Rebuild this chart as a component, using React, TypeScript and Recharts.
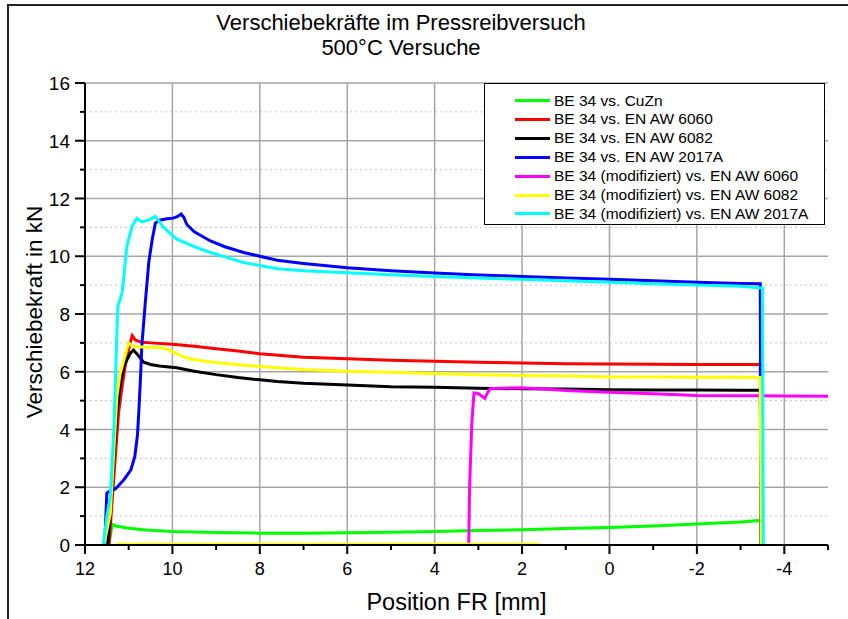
import React from "react";
import {
  LineChart,
  Line,
  XAxis,
  YAxis,
  CartesianGrid,
} from "recharts";

// Position FR [mm] (x) and Verschiebekraft [kN] (y)
const cuznPos = [11.45, 11.38, 11.3, 11.0, 10.6, 10.0, 9.0, 8.0, 7.0, 6.0, 5.0, 4.0, 3.0, 2.0, 1.0, 0.0, -1.0, -2.0, -3.0, -3.45, -3.48];
const cuznForce = [0, 0.72, 0.66, 0.58, 0.52, 0.47, 0.43, 0.41, 0.41, 0.42, 0.44, 0.47, 0.5, 0.53, 0.57, 0.61, 0.66, 0.73, 0.8, 0.85, 0];

const aw6060Pos = [11.45, 11.38, 11.3, 11.23, 11.15, 11.08, 11.0, 10.92, 10.85, 10.7, 10.5, 10.0, 9.5, 9.0, 8.5, 8.0, 7.0, 6.0, 5.0, 4.0, 3.0, 2.0, 1.0, 0, -1, -2, -3, -3.45, -3.47];
const aw6060Force = [0, 1.5, 3.2, 4.6, 5.5, 6.2, 6.8, 7.25, 7.1, 7.02, 7.0, 6.95, 6.88, 6.8, 6.72, 6.62, 6.5, 6.45, 6.4, 6.36, 6.33, 6.3, 6.28, 6.27, 6.26, 6.25, 6.25, 6.25, 0];

const aw6082Pos = [11.48, 11.42, 11.35, 11.27, 11.2, 11.11, 11.03, 10.96, 10.89, 10.8, 10.66, 10.5, 10.3, 9.9, 9.5, 9.0, 8.5, 8.0, 7.6, 7.0, 6.0, 5.0, 4.0, 3.0, 2.0, 1.0, 0, -1, -2, -3, -3.45, -3.47];
const aw6082Force = [0, 1.1, 2.8, 4.58, 5.5, 6.19, 6.45, 6.65, 6.75, 6.6, 6.33, 6.25, 6.2, 6.14, 6.02, 5.9, 5.8, 5.72, 5.66, 5.6, 5.54, 5.48, 5.46, 5.43, 5.41, 5.4, 5.38, 5.37, 5.37, 5.36, 5.36, 0];

const aw2017Pos = [11.55, 11.5, 11.45, 11.3, 11.11, 10.95, 10.86, 10.8, 10.77, 10.73, 10.7, 10.62, 10.54, 10.46, 10.39, 10.3, 10.12, 9.98, 9.88, 9.8, 9.74, 9.67, 9.5, 9.13, 8.8, 8.37, 8.0, 7.6, 7.0, 6.0, 5.0, 4.0, 3.0, 2.0, 1.0, 0, -1, -2, -3, -3.45, -3.47];
const aw2017Force = [0, 1.8, 1.85, 1.95, 2.26, 2.6, 3.07, 3.8, 4.58, 5.8, 6.9, 8.4, 9.8, 10.6, 11.15, 11.25, 11.3, 11.32, 11.38, 11.46, 11.35, 11.1, 10.85, 10.53, 10.33, 10.13, 10.0, 9.86, 9.75, 9.6, 9.5, 9.42, 9.35, 9.3, 9.25, 9.2, 9.15, 9.1, 9.06, 9.05, 0];

const mod6060Pos = [3.22, 3.2, 3.15, 3.1, 3.0, 2.92, 2.85, 2.78, 2.73, 2.5, 2.05, 1.5, 1.0, 0, -1, -2, -3, -4, -5];
const mod6060Force = [0, 2.0, 4.2, 5.27, 5.25, 5.15, 5.08, 5.3, 5.41, 5.43, 5.45, 5.4, 5.35, 5.29, 5.24, 5.18, 5.17, 5.16, 5.15];

const mod6082Pos = [11.57, 11.5, 11.42, 11.35, 11.27, 11.2, 11.11, 11.05, 11.0, 10.9, 10.6, 10.3, 10.15, 10.0, 9.8, 9.6, 9.3, 9.0, 8.5, 8.0, 7.6, 7.0, 6.0, 5.0, 4.0, 3.0, 2.0, 1.0, 0, -1, -2, -3, -3.45, -3.47];
const mod6082Force = [0, 0.5, 1.1, 3.0, 5.15, 5.9, 6.42, 6.75, 7.0, 6.88, 6.85, 6.84, 6.8, 6.7, 6.55, 6.45, 6.37, 6.32, 6.24, 6.18, 6.14, 6.08, 6.02, 5.98, 5.94, 5.9, 5.87, 5.85, 5.82, 5.82, 5.81, 5.81, 5.8, 0];
// yellow trace lying on the zero line
const mod6082ZeroPos = [11.3, 1.6];
const mod6082ZeroForce = [0.03, 0.03];

const mod2017Pos = [11.58, 11.5, 11.42, 11.34, 11.25, 11.15, 11.04, 10.92, 10.81, 10.7, 10.55, 10.39, 10.3, 10.2, 9.9, 9.5, 9.13, 8.37, 7.6, 7.0, 6.0, 5.0, 4.0, 3.0, 2.0, 1.0, 0, -1, -2, -3, -3.5, -3.52];
const mod2017Force = [0, 1.0, 1.68, 4.0, 8.27, 8.74, 10.36, 11.05, 11.31, 11.19, 11.25, 11.38, 11.2, 11.0, 10.59, 10.33, 10.13, 9.78, 9.57, 9.5, 9.43, 9.36, 9.3, 9.25, 9.2, 9.15, 9.1, 9.05, 9.0, 8.96, 8.9, 0];

const xTicks = [12, 11, 10, 9, 8, 7, 6, 5, 4, 3, 2, 1, 0, -1, -2, -3, -4, -5];
const yTicks = [0, 1, 2, 3, 4, 5, 6, 7, 8, 9, 10, 11, 12, 13, 14, 15, 16];
const xGrid = [10, 8, 6, 4, 2, 0, -2, -4];
const yGridMajor = [2, 4, 6, 8, 10, 12, 14, 16];
const yGridMinor = [1, 3, 5, 7, 9, 11, 13, 15];

const FONT = '"Liberation Sans", Arial, sans-serif';

const toPoints = (xs: number[], ys: number[]) =>
  xs.map((x, i) => ({ x, y: ys[i] }));

const series = [
  { name: "BE 34 vs. CuZn", color: "#00ff00", data: toPoints(cuznPos, cuznForce) },
  { name: "BE 34 vs. EN AW 6060", color: "#ff0000", data: toPoints(aw6060Pos, aw6060Force) },
  { name: "BE 34 vs. EN AW 6082", color: "#000000", data: toPoints(aw6082Pos, aw6082Force) },
  { name: "BE 34 vs. EN AW 2017A", color: "#0000ff", data: toPoints(aw2017Pos, aw2017Force) },
  { name: "BE 34 (modifiziert) vs. EN AW 6060", color: "#ff00ff", data: toPoints(mod6060Pos, mod6060Force) },
  { name: "BE 34 (modifiziert) vs. EN AW 6082", color: "#ffff00", data: toPoints(mod6082Pos, mod6082Force) },
  { name: "BE 34 (modifiziert) vs. EN AW 2017A", color: "#00ffff", data: toPoints(mod2017Pos, mod2017Force) },
];

const XTick = (props: any) => {
  const { x, y, payload } = props;
  const v = payload.value;
  const major = v % 2 === 0;
  return (
    <g>
      <line x1={x} x2={x} y1={y} y2={y + (major ? 9 : 5)} stroke="#000" strokeWidth={2} />
      {major && (
        <text x={x} y={y + 30} textAnchor="middle" fontSize={18} fontFamily={FONT} fill="#000">
          {v}
        </text>
      )}
    </g>
  );
};

const YTick = (props: any) => {
  const { x, y, payload } = props;
  const v = payload.value;
  const major = v % 2 === 0;
  return (
    <g>
      <line x1={x} x2={x - (major ? 10 : 5)} y1={y} y2={y} stroke="#000" strokeWidth={2} />
      {major && (
        <text x={x - 15} y={y + 7} textAnchor="end" fontSize={19} fontFamily={FONT} fill="#000">
          {v}
        </text>
      )}
    </g>
  );
};

export default function App() {
  return (
    <div
      style={{
        position: "absolute",
        left: 0,
        top: 0,
        width: 848,
        height: 619,
        background: "#fff",
        fontFamily: FONT,
        overflow: "hidden",
      }}
    >
      {/* frame */}
      <div style={{ position: "absolute", left: 7, top: 4, width: 841, height: 2, background: "#222" }} />
      <div style={{ position: "absolute", left: 7, top: 4, width: 2, height: 615, background: "#222" }} />

      <div style={{ position: "absolute", left: 0, top: 10, width: 802, textAlign: "center", fontSize: 22, lineHeight: "25px" }}>
        Verschiebekräfte im Pressreibversuch
        <br />
        500°C Versuche
      </div>

      <LineChart
        width={848}
        height={619}
        margin={{ top: 83, right: 20, left: 0, bottom: 0 }}
      >
        <CartesianGrid
          horizontalValues={yGridMinor}
          verticalValues={xGrid}
          vertical={false}
          stroke="#c4c4c4"
          strokeDasharray="2 3"
        />
        <CartesianGrid
          horizontalValues={yGridMajor}
          verticalValues={xGrid}
          stroke="#a6a6a6"
          strokeWidth={1.5}
        />
        <XAxis
          type="number"
          dataKey="x"
          domain={[-5, 12]}
          reversed
          allowDataOverflow
          ticks={xTicks}
          interval={0}
          tick={<XTick />}
          tickLine={false}
          tickSize={0}
          tickMargin={0}
          axisLine={{ stroke: "#000", strokeWidth: 2 }}
          height={74}
        />
        <YAxis
          type="number"
          dataKey="y"
          domain={[0, 16]}
          ticks={yTicks}
          interval={0}
          tick={<YTick />}
          tickLine={false}
          tickSize={0}
          tickMargin={0}
          axisLine={{ stroke: "#000", strokeWidth: 2 }}
          width={85}
        />
        {series.map((s) => (
          <Line
            key={s.name}
            data={s.data}
            dataKey="y"
            type="linear"
            stroke={s.color}
            strokeWidth={3}
            dot={false}
            isAnimationActive={false}
          />
        ))}
        <Line
          data={toPoints(mod6082ZeroPos, mod6082ZeroForce)}
          dataKey="y"
          type="linear"
          stroke="#ffff00"
          strokeWidth={3}
          dot={false}
          isAnimationActive={false}
        />
      </LineChart>

      {/* axis titles */}
      <div
        style={{
          position: "absolute",
          left: 35,
          top: 312,
          transform: "translate(-50%, -50%) rotate(-90deg)",
          whiteSpace: "nowrap",
          fontSize: 22.5,
          lineHeight: 1,
        }}
      >
        Verschiebekraft in kN
      </div>
      <div style={{ position: "absolute", left: 85, width: 743, top: 591, textAlign: "center", fontSize: 23.5, lineHeight: 1 }}>
        Position FR [mm]
      </div>

      {/* legend */}
      <div
        style={{
          position: "absolute",
          left: 484,
          top: 83,
          width: 341,
          height: 142,
          border: "1px solid #000",
          background: "#fff",
          boxSizing: "border-box",
        }}
      >
        {series.map((s, i) => (
          <div
            key={s.name}
            style={{
              position: "absolute",
              left: 30,
              top: 7 + i * 18.9,
              height: 19,
              display: "flex",
              alignItems: "center",
              whiteSpace: "nowrap",
              fontSize: 15.5,
            }}
          >
            <div style={{ width: 35, height: 3, background: s.color, marginRight: 4 }} />
            {s.name}
          </div>
        ))}
      </div>
    </div>
  );
}
